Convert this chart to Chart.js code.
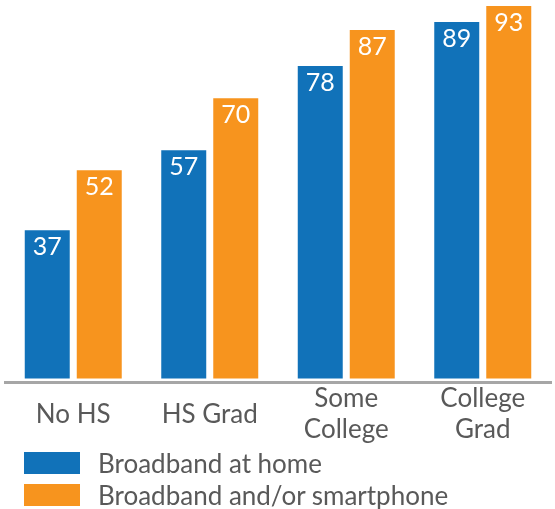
<!DOCTYPE html>
<html>
<head>
<meta charset="utf-8">
<script src="https://cdn.jsdelivr.net/npm/chart.js@4/dist/chart.umd.min.js"></script>
<style>
  html, body { margin: 0; padding: 0; background: #fff; }
  body { width: 555px; height: 509px; position: relative; overflow: hidden; font-family: Lato, sans-serif; }
  #wrap { position: absolute; left: 0; top: 0; width: 555px; height: 480px; }
  .legend { position: absolute; left: 24px; color: #595959; font-size: 26px; }
  .legend div { height: 32px; display: flex; align-items: center; }
  .legend span.sw { display: inline-block; width: 56px; height: 22px; margin-right: 18px; }
</style>
</head>
<body>
<div id="wrap"><canvas id="chart"></canvas></div>
<div class="legend" style="top:447px">
  <div><span class="sw" style="background:#1172b9"></span>Broadband at home</div>
  <div><span class="sw" style="background:#f7941e"></span>Broadband and/or smartphone</div>
</div>
<script>
// --- Dane ---
const categories = [['No HS'], ['HS Grad'], ['Some', 'College'], ['College', 'Grad']];
const broadbandHome = [37, 57, 78, 89];
const broadbandOrPhone = [52, 70, 87, 93];
const seriesNames = ['Broadband at home', 'Broadband and/or smartphone'];

const blue = '#1172b9', orange = '#f7941e', gray = '#595959';

// --- Etykiety wartości w słupkach ---
const valueLabels = {
  id: 'valueLabels',
  afterDatasetsDraw(chart){
    const ctx = chart.ctx;
    ctx.save();
    ctx.fillStyle = '#fff';
    ctx.font = '25px Lato';
    ctx.textAlign = 'center';
    ctx.textBaseline = 'alphabetic';
    chart.data.datasets.forEach((ds, i) => {
      chart.getDatasetMeta(i).data.forEach((bar, j) => {
        ctx.fillText(ds.data[j], bar.x, bar.y + 25);
      });
    });
    ctx.restore();
  }
};

new Chart(document.getElementById('chart'), {
  type: 'bar',
  data: {
    labels: categories,
    datasets: [
      { label: seriesNames[0], data: broadbandHome, backgroundColor: blue },
      { label: seriesNames[1], data: broadbandOrPhone, backgroundColor: orange }
    ]
  },
  options: {
    responsive: true,
    maintainAspectRatio: false,
    animation: false,
    categoryPercentage: 0.762,
    barPercentage: 0.865,
    layout: { padding: { left: 5, right: 4, top: 0, bottom: 3 } },
    plugins: { legend: { display: false }, tooltip: { enabled: false } },
    scales: {
      x: {
        grid: { display: false, drawTicks: false, tickLength: 0 },
        border: { display: true, color: '#a6a6a6', width: 3 },
        ticks: { color: gray, font: { family: 'Lato', size: 26 }, padding: 16, crossAlign: 'center', maxRotation: 0, autoSkip: false }
      },
      y: { display: false, min: -1, max: 94.5 }
    }
  },
  plugins: [valueLabels]
});
</script>
</body>
</html>
